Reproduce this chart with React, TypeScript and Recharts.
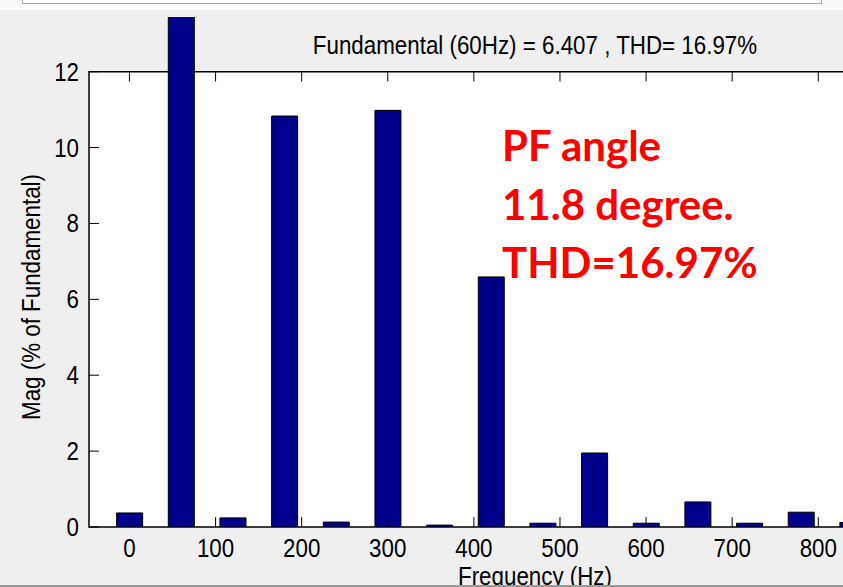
import { Bar, BarChart, ReferenceArea, ReferenceLine, XAxis, YAxis } from "recharts";

// harmonic spectrum, % of fundamental (fundamental itself = 100, runs off the top)
const FREQ_HZ = [0, 60, 120, 180, 240, 300, 360, 420, 480, 540, 600, 660, 720, 780, 840];
const MAG_PCT = [0.37, 100, 0.24, 10.83, 0.13, 10.98, 0.05, 6.59, 0.1, 1.95, 0.1, 0.66, 0.1, 0.39, 0.12];

const X_TICKS = [0, 100, 200, 300, 400, 500, 600, 700, 800];
const Y_TICKS = [0, 2, 4, 6, 8, 10, 12];

const X_MIN = -47;
const X_MAX = 989;
const Y_BOX = 12;
const Y_TOP = 13.44;

const TITLE = "Fundamental (60Hz) = 6.407 , THD= 16.97%";
const NOTE = ["PF angle", "11.8 degree.", "THD=16.97%"];

const BAR_FILL = "#00008B";
const FIG_BG = "#efefef";
const FONT = "'Liberation Sans', Arial, sans-serif";
const FONT_SIZE = 26;
const SQUEEZE = 0.86; // matlab's helvetica renders narrower than arial

// inward tick length, in data units (~10px)
const TICK_X = 11.6;
const TICK_Y = 0.26;

const data = FREQ_HZ.map((f, i) => ({ freq: f, mag: MAG_PCT[i] }));

function Narrow({
  x,
  y,
  anchor = "middle",
  rotate = 0,
  children,
}: {
  x: number;
  y: number;
  anchor?: "start" | "middle" | "end";
  rotate?: number;
  children: React.ReactNode;
}) {
  return (
    <g transform={`translate(${x},${y}) rotate(${rotate}) scale(${SQUEEZE},1)`}>
      <text x={0} y={0} textAnchor={anchor} fill="#000" fontFamily={FONT} fontSize={FONT_SIZE}>
        {children}
      </text>
    </g>
  );
}

function XTick({ x, y, payload }: any) {
  return (
    <Narrow x={x} y={y + 30}>
      {payload.value}
    </Narrow>
  );
}

function YTick({ x, y, payload }: any) {
  return (
    <Narrow x={x - 10} y={y + 9} anchor="end">
      {payload.value}
    </Narrow>
  );
}

export default function App() {
  return (
    <div
      style={{
        position: "fixed",
        left: 0,
        top: 0,
        width: 843,
        height: 587,
        overflow: "hidden",
        background: FIG_BG,
      }}
    >
      {/* window frame remnants at the top */}
      <div style={{ position: "absolute", left: 0, top: 0, width: 843, height: 10, background: "#fafafa" }} />
      <div
        style={{
          position: "absolute",
          left: 22,
          top: -10,
          width: 798,
          height: 12,
          background: "#fff",
          border: "1.5px solid #a8a8a8",
        }}
      />

      <div style={{ position: "absolute", left: 0, top: 0 }}>
        <BarChart
          width={1000}
          height={587}
          data={data}
          margin={{ top: 17, right: 19, left: 0, bottom: 0 }}
        >
          <ReferenceArea
            x1={X_MIN}
            x2={X_MAX}
            y1={0}
            y2={Y_BOX}
            fill="#fff"
            fillOpacity={1}
            stroke="#000"
            strokeWidth={1.5}
            ifOverflow="visible"
          />
          {X_TICKS.map((t) => (
            <ReferenceLine
              key={"xb" + t}
              segment={[
                { x: t, y: 0 },
                { x: t, y: TICK_Y },
              ]}
              stroke="#000"
              strokeWidth={1}
            />
          ))}
          {X_TICKS.map((t) => (
            <ReferenceLine
              key={"xt" + t}
              segment={[
                { x: t, y: Y_BOX },
                { x: t, y: Y_BOX - TICK_Y },
              ]}
              stroke="#000"
              strokeWidth={1}
            />
          ))}
          {Y_TICKS.map((t) => (
            <ReferenceLine
              key={"yl" + t}
              segment={[
                { x: X_MIN, y: t },
                { x: X_MIN + TICK_X, y: t },
              ]}
              stroke="#000"
              strokeWidth={1}
            />
          ))}
          <XAxis
            dataKey="freq"
            type="number"
            domain={[X_MIN, X_MAX]}
            ticks={X_TICKS}
            allowDataOverflow
            axisLine={false}
            tickLine={false}
            tickSize={0}
            tickMargin={0}
            height={60}
            interval={0}
            tick={<XTick />}
            label={(props: any) => {
              const vb = props.viewBox;
              return (
                <Narrow x={vb.x + vb.width / 2} y={vb.y + 58}>
                  Frequency (Hz)
                </Narrow>
              );
            }}
          />
          <YAxis
            type="number"
            domain={[0, Y_TOP]}
            ticks={Y_TICKS}
            allowDataOverflow
            axisLine={false}
            tickLine={false}
            tickSize={0}
            tickMargin={0}
            width={89}
            interval={0}
            tick={<YTick />}
          />
          <Bar
            dataKey="mag"
            barSize={26}
            fill={BAR_FILL}
            stroke="#000"
            strokeWidth={1}
            isAnimationActive={false}
          />
        </BarChart>
      </div>

      <svg
        width={843}
        height={587}
        style={{ position: "absolute", left: 0, top: 0, pointerEvents: "none" }}
      >
        <Narrow x={40} y={297} rotate={-90}>
          Mag (% of Fundamental)
        </Narrow>
        <Narrow x={535} y={54}>
          {TITLE}
        </Narrow>
        {NOTE.map((line, i) => (
          <text
            key={line}
            x={502}
            y={161 + i * 58.5}
            fill="#ff0000"
            fontFamily="Lato, 'Open Sans', sans-serif"
            fontWeight={700}
            fontSize={42}
          >
            {line}
          </text>
        ))}
      </svg>

      <div style={{ position: "absolute", left: 0, top: 585, width: 843, height: 2, background: "#9a9a9a" }} />
    </div>
  );
}
